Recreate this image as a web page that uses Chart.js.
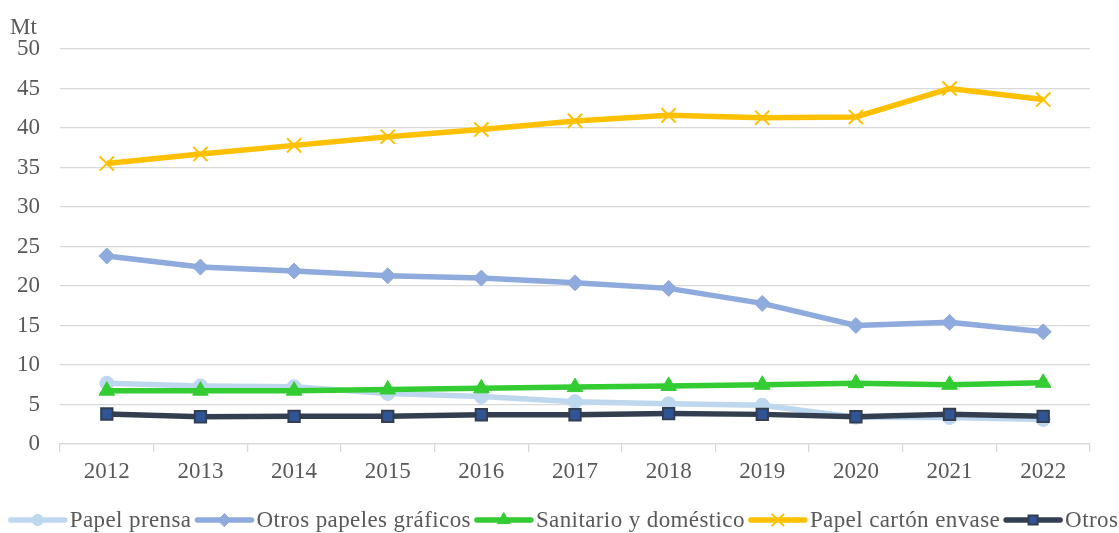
<!DOCTYPE html>
<html>
<head>
<meta charset="utf-8">
<script src="https://cdn.jsdelivr.net/npm/chart.js@4"></script>
<style>
  html, body { margin: 0; padding: 0; background: #ffffff; }
  #wrap { width: 1119px; height: 533px; position: relative; }
</style>
</head>
<body>
<div id="wrap"><canvas id="c"></canvas></div>
<script>
// ---- Data ----
const years = ['2012','2013','2014','2015','2016','2017','2018','2019','2020','2021','2022'];
const papelPrensa      = [7.7, 7.35, 7.25, 6.4, 6.0, 5.35, 5.1, 4.9, 3.4, 3.35, 3.1];
const otrosGraficos    = [23.8, 22.4, 21.9, 21.3, 21.0, 20.4, 19.7, 17.8, 15.0, 15.4, 14.2];
const sanitario        = [6.75, 6.75, 6.75, 6.9, 7.05, 7.2, 7.35, 7.5, 7.7, 7.5, 7.75];
const cartonEnvase     = [35.5, 36.7, 37.8, 38.9, 39.8, 40.9, 41.6, 41.3, 41.4, 45.0, 43.6];
const otros            = [3.8, 3.45, 3.5, 3.5, 3.7, 3.7, 3.85, 3.75, 3.45, 3.75, 3.5];
const seriesNames = ['Papel prensa', 'Otros papeles gráficos', 'Sanitario y doméstico', 'Papel cartón envase', 'Otros'];
const yUnit = 'Mt';
const yMin = 0, yMax = 50, yStep = 5;

const FONT = '"Liberation Serif", "Times New Roman", serif';
const TXT = '#595959';
const GRID = '#d9d9d9';

const legendPlugin = {
  id: 'customLegend',
  afterDraw(chart) {
    const ctx = chart.ctx;
    ctx.save();
    // unit label
    ctx.font = '23px ' + FONT;
    ctx.fillStyle = TXT;
    ctx.textAlign = 'left';
    ctx.textBaseline = 'middle';
    ctx.fillText(yUnit, 10, 28);

    // legend
    ctx.letterSpacing = '0.4px';
    const lineLen = 58, gapText = 3, gapItem = 4;
    const items = chart.data.datasets.map(ds => ({ ds, w: ctx.measureText(ds.label).width }));
    let total = 0;
    items.forEach((it, i) => { total += lineLen + gapText + it.w + (i < items.length - 1 ? gapItem : 0); });
    let x = (chart.width - total) / 2 + 4;
    const y = 520;
    items.forEach(it => {
      const ds = it.ds;
      ctx.strokeStyle = ds.borderColor;
      ctx.lineWidth = ds.borderWidth;
      ctx.lineCap = 'round';
      ctx.beginPath();
      ctx.moveTo(x + 2, y);
      ctx.lineTo(x + lineLen - 2, y);
      ctx.stroke();
      ctx.fillStyle = ds.pointBackgroundColor;
      ctx.strokeStyle = ds.pointBorderColor;
      ctx.lineWidth = ds.pointBorderWidth;
      Chart.helpers.drawPoint(ctx, {
        pointStyle: ds.pointStyle, rotation: 0,
        radius: ds.pointRadius * 0.8, borderWidth: ds.pointBorderWidth
      }, x + lineLen / 2, y);
      ctx.fillStyle = TXT;
      ctx.textAlign = 'left';
      ctx.textBaseline = 'middle';
      ctx.fillText(ds.label, x + lineLen + gapText, y + 1);
      x += lineLen + gapText + it.w + gapItem;
    });
    ctx.restore();
  }
};

function mk(label, data, color, style, radius, extra) {
  return Object.assign({
    label, data,
    borderColor: color,
    backgroundColor: color,
    borderWidth: 5.5,
    pointStyle: style,
    pointRadius: radius,
    pointHoverRadius: radius,
    pointBackgroundColor: color,
    pointBorderColor: color,
    pointBorderWidth: 1,
    tension: 0,
    fill: false
  }, extra || {});
}

new Chart(document.getElementById('c'), {
  type: 'line',
  data: {
    labels: years,
    datasets: [
      mk(seriesNames[0], papelPrensa, '#BDD7EE', 'circle', 7, { order: 10 }),
      mk(seriesNames[1], otrosGraficos, '#8FAADC', 'rectRot', 8, { order: 4 }),
      mk(seriesNames[2], sanitario, '#33CC33', 'triangle', 9, { order: 3 }),
      mk(seriesNames[3], cartonEnvase, '#FFC000', 'crossRot', 10, { order: 2, pointBorderWidth: 2 }),
      mk(seriesNames[4], otros, '#333F50', 'rect', 8, { order: 1, pointBackgroundColor: '#2F5597', pointBorderColor: '#333F50', pointBorderWidth: 2 })
    ]
  },
  options: {
    responsive: true,
    maintainAspectRatio: false,
    animation: false,
    devicePixelRatio: 1,
    layout: { padding: { top: 49, right: 29, bottom: 0, left: 0 } },
    plugins: {
      legend: { display: false },
      tooltip: { enabled: false },
      title: { display: false }
    },
    scales: {
      x: {
        type: 'category',
        offset: true,
        grid: { display: true, drawOnChartArea: false, drawTicks: true, tickLength: 8, color: GRID, lineWidth: 1.3, offset: true },
        border: { display: true, color: GRID, width: 1.3 },
        ticks: { color: TXT, font: { family: FONT, size: 23 }, padding: 6, maxRotation: 0, autoSkip: false },
        afterFit(scale) { scale.height = 89; }
      },
      y: {
        min: yMin, max: yMax,
        ticks: { stepSize: yStep, color: TXT, font: { family: FONT, size: 23 }, padding: 20 },
        grid: { color: GRID, lineWidth: 1.3, drawTicks: false },
        border: { display: false },
        afterFit(scale) { scale.width = 60; }
      }
    }
  },
  plugins: [legendPlugin]
});
</script>
</body>
</html>
